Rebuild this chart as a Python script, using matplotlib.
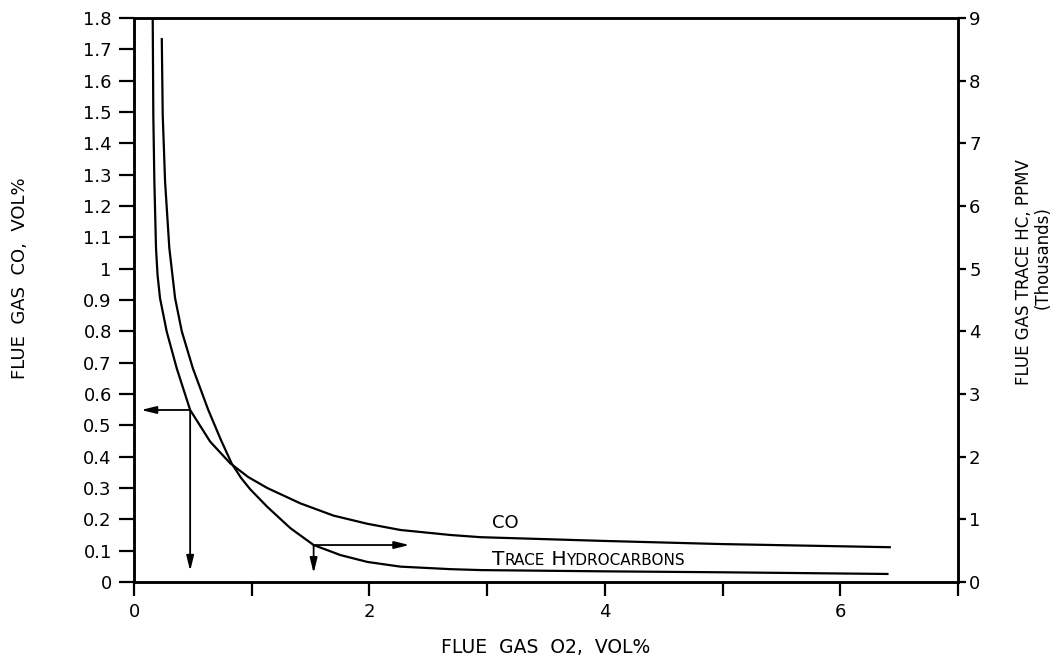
import matplotlib
matplotlib.use("Agg")
import matplotlib.pyplot as plt

# ---- data ----
co_o2 = [0.159, 0.164, 0.173, 0.187, 0.20, 0.221, 0.278, 0.363, 0.477, 0.647, 0.817,
         0.97, 1.132, 1.413, 1.694, 1.98, 2.264, 2.689, 2.945, 4.0, 5.0, 6.43]
co_vol = [1.80, 1.49, 1.278, 1.065, 0.98, 0.906, 0.799, 0.682, 0.549, 0.448, 0.379,
          0.335, 0.300, 0.251, 0.212, 0.186, 0.166, 0.150, 0.143, 0.131, 0.121, 0.111]

hc_o2 = [0.236, 0.244, 0.264, 0.300, 0.349, 0.406, 0.50, 0.63, 0.74, 0.83,
         0.91, 0.987, 1.132, 1.328, 1.526, 1.753, 1.983, 2.264, 2.689, 2.945, 4.0, 5.0, 6.41]
hc_kppmv = [8.68, 7.45, 6.39, 5.33, 4.53, 4.00, 3.41, 2.75, 2.26, 1.89,
            1.66, 1.48, 1.20, 0.86, 0.59, 0.43, 0.32, 0.245, 0.205, 0.19, 0.17, 0.155, 0.128]

x_ticks = [0, 1, 2, 3, 4, 5, 6, 7]
x_tick_labels = ["0", "", "2", "", "4", "", "6", ""]
left_ticks = [i / 10 for i in range(19)]
left_tick_labels = ["0", "0.1", "0.2", "0.3", "0.4", "0.5", "0.6", "0.7", "0.8", "0.9",
                    "1", "1.1", "1.2", "1.3", "1.4", "1.5", "1.6", "1.7", "1.8"]
right_ticks = [0, 1, 2, 3, 4, 5, 6, 7, 8, 9]
right_tick_labels = [str(v) for v in right_ticks]

# reading-guide arrows (left axis units): start point, end point
co_guide_start = (0.477, 0.549)
co_guide_left_end = (0.06, 0.549)
co_guide_down_end = (0.477, 0.035)
hc_guide_start = (1.526, 0.118)
hc_guide_right_end = (2.34, 0.118)
hc_guide_down_end = (1.526, 0.028)

plt.rcParams['font.family'] = ['DejaVu Sans']
fig = plt.figure(figsize=(10.53, 6.60), dpi=100)
ax = fig.add_axes([134 / 1053, 1 - 582 / 660, (958 - 134) / 1053, (582 - 18) / 660])
ax2 = ax.twinx()

lw = 1.6
ax.plot(co_o2, co_vol, color='black', lw=lw, solid_capstyle='butt', solid_joinstyle='round')
ax2.plot(hc_o2, hc_kppmv, color='black', lw=lw, solid_capstyle='butt', solid_joinstyle='round')

ax.set_xlim(0, 7)
ax.set_ylim(0, 1.8)
ax2.set_ylim(0, 9)

ax.set_xticks(x_ticks)
ax.set_xticklabels(x_tick_labels)
ax.set_yticks(left_ticks)
ax.set_yticklabels(left_tick_labels)
ax2.set_yticks(right_ticks)
ax2.set_yticklabels(right_tick_labels)

for a in (ax, ax2):
    for s in a.spines.values():
        s.set_linewidth(1.8)
        s.set_color('black')

ax.tick_params(axis='y', direction='out', length=11, width=1.6, labelsize=13, pad=5)
ax.tick_params(axis='x', direction='out', length=10, width=1.6, labelsize=13, pad=5)
ax2.tick_params(axis='y', direction='out', length=6, width=1.6, labelsize=13, pad=2)

ax.set_xlabel("FLUE  GAS  O2,  VOL%", fontsize=13.5)
ax.xaxis.set_label_coords(0.5, -0.117)
ax.xaxis.label.set_va('center')

ax.set_ylabel("FLUE  GAS  CO,  VOL%", fontsize=13)
ax.yaxis.set_label_coords(-0.138, 0.539)
ax.yaxis.label.set_va('center')
ax.yaxis.label.set_ha('center')

ax2.set_ylabel("FLUE GAS TRACE HC, PPMV", fontsize=12)
ax2.yaxis.set_label_coords(1.0795, 0.55)
ax2.yaxis.label.set_va('center')
ax2.yaxis.label.set_ha('center')
ax2.yaxis.label.set_rotation(90)
ax2.text(1.1025, 0.576, "(Thousands)", transform=ax2.transAxes, rotation=90,
         fontsize=12, ha='center', va='center')

arrow_kw = dict(arrowstyle='-|>,head_length=0.9,head_width=0.22', color='black',
                lw=1.3, shrinkA=0, shrinkB=0)
for start, end in [(co_guide_start, co_guide_left_end), (co_guide_start, co_guide_down_end),
                   (hc_guide_start, hc_guide_right_end), (hc_guide_start, hc_guide_down_end)]:
    ax.annotate("", xy=end, xytext=start, arrowprops=arrow_kw)

# curve labels
ax.text(3.04, 0.172, "CO", fontsize=13, va='baseline', ha='left')
pieces = [("T", 14.5), ("RACE", 11), (" H", 14.5), ("YDROCARBONS", 11)]
prev = ax.text(3.04, 0.053, pieces[0][0], fontsize=pieces[0][1], va='baseline', ha='left')
for txt, fs in pieces[1:]:
    prev = ax.annotate(txt, xy=(1, 0.053), xycoords=(prev, 'data'), fontsize=fs,
                       va='baseline', ha='left')

fig.savefig("out.png", dpi=100)
